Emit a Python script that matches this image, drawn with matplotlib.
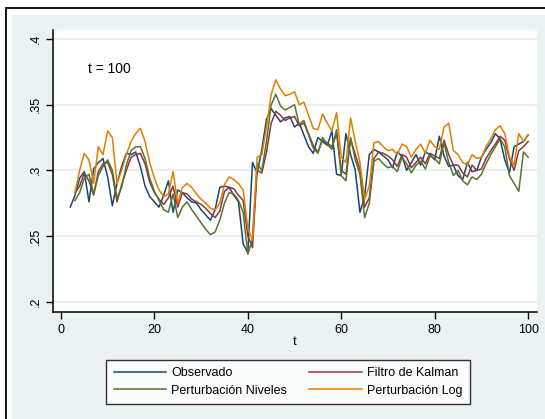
import numpy as np
import matplotlib.pyplot as plt
from matplotlib.patches import Rectangle

plt.rcParams['font.family'] = ['Liberation Sans', 'DejaVu Sans']

# periods
t = list(range(2, 101))

# series values (None = no value at that period)
observado = [
    .272, .281, .294, .299, .276, .301, .306, .309, .295, .273,
    .290, .303, .313, .312, .314, .303, .288, .280, .276, .272,
    .281, .292, .268, .285, .283, .279, .276, .275, .270, .266,
    .262, .270, .287, .288, .287, .281, .276, .244, .237, .306,
    .298, .316, .339, .347, .342, .337, .340, .341, .333, .336,
    .327, .318, .313, .325, .322, .319, .330, .297, .296, .328,
    .312, .300, .268, .280, .312, .316, .314, .311, .308, .302,
    .314, .311, .300, .306, .312, .304, .314, .312, .308, .326,
    .311, .303, .304, .296, .293, .306, .299, .300, .310, .316,
    .321, .328, .324, .308, .298, .318, .320, .322, .327]

kalman = [
    None, .283, .288, .298, .292, .281, .299, .305, .306, .297,
    .276, .289, .300, .310, .312, .313, .305, .291, .283, .278,
    .274, .279, .288, .272, .283, .282, .278, .276, .274, .271,
    .267, .264, .269, .284, .287, .286, .281, .277, .250, .241,
    .300, .298, .314, .336, .345, .342, .338, .340, .341, .334,
    .336, .328, .319, .314, .323, .321, .318, .328, .300, .297,
    .324, .312, .301, .272, .279, .309, .314, .313, .311, .308,
    .303, .312, .310, .302, .306, .310, .305, .313, .311, .309,
    .323, .312, .304, .304, .298, .295, .304, .300, .301, .309,
    .315, .320, .326, .323, .309, .300, .315, .318, .322]

niveles = [
    None, .277, .283, .294, .297, .282, .296, .303, .308, .300,
    .279, .287, .304, .315, .318, .318, .309, .294, .284, .277,
    .270, .268, .282, .264, .272, .276, .270, .265, .260, .255,
    .251, .253, .262, .275, .283, .282, .277, .268, .236, .248,
    .305, .300, .322, .350, .358, .349, .346, .348, .350, .335,
    .338, .327, .317, .313, .325, .320, .316, .331, .296, .292,
    .325, .308, .297, .264, .275, .307, .309, .305, .302, .303,
    .299, .310, .305, .298, .304, .307, .301, .311, .309, .305,
    .321, .306, .296, .300, .292, .289, .295, .293, .297, .305,
    .312, .318, .324, .318, .296, .290, .284, .314, .310]

log_pert = [
    None, .283, .300, .313, .308, .290, .318, .312, .330, .325,
    .290, .300, .312, .322, .328, .332, .322, .306, .294, .285,
    .280, .282, .299, .275, .287, .290, .287, .282, .278, .275,
    .271, .270, .275, .289, .295, .293, .290, .285, .256, .247,
    .310, .312, .333, .358, .369, .362, .357, .358, .360, .350,
    .352, .342, .332, .331, .343, .336, .330, .344, .310, .306,
    .340, .322, .306, .278, .288, .321, .322, .318, .315, .316,
    .312, .320, .318, .310, .316, .320, .313, .323, .318, .316,
    .333, .336, .315, .312, .306, .304, .312, .309, .310, .318,
    .324, .331, .334, .328, .310, .304, .328, .322, .327]

labels = ['Observado', 'Filtro de Kalman', 'Perturbación Niveles', 'Perturbación Log']
colors = ['#1A476F', '#90353B', '#55752F', '#E37E00']


def arr(v):
    return np.array([np.nan if x is None else x for x in v])


W, H = 545, 419
fig = plt.figure(figsize=(W / 100, H / 100), dpi=100)
fig.patch.set_facecolor('white')

# outer frame and graph region (behind the axes)
fig.patches.append(Rectangle((6 / W, -0.1), 1.2, 1 - 8 / H + 0.1, transform=fig.transFigure,
                             facecolor='white', edgecolor='black', lw=1.3, zorder=-2))
fig.patches.append(Rectangle((12 / W, -0.1), 1.2, 1 - 15 / H + 0.1, transform=fig.transFigure,
                             facecolor='#EAF2F3', edgecolor='none', zorder=-1))

ax = fig.add_axes([53 / W, 1 - 312 / H, (537 - 53) / W, (312 - 30) / H])
ax.set_facecolor('white')

lines = []
for vals, lab, col in zip([observado, kalman, niveles, log_pert], labels, colors):
    ln, = ax.plot(t, arr(vals), color=col, lw=1.1, label=lab)
    lines.append(ln)

ax.set_xlim(-1.7, 101.9)
ax.set_ylim(0.192, 0.407)
ax.set_xticks([0, 20, 40, 60, 80, 100])
ax.set_yticks([.2, .25, .3, .35, .4])
ax.set_yticklabels(['.2', '.25', '.3', '.35', '.4'], rotation=90, va='center')
ax.tick_params(axis='both', direction='out', length=5, width=1, labelsize=9, colors='black')
ax.tick_params(axis='y', pad=3)
ax.yaxis.grid(True, color='#E4EDEF', lw=1.2)
ax.set_axisbelow(True)
for s in ['top', 'right']:
    ax.spines[s].set_visible(False)
for s in ['left', 'bottom']:
    ax.spines[s].set_linewidth(1.1)

ax.set_xlabel('t', fontsize=9.5, labelpad=0)
ax.text(5.8, .377, 't = 100', fontsize=10, va='center', ha='left')

# legend: column-first order to get the two-row layout
order = [0, 2, 1, 3]
leg = fig.legend([lines[i] for i in order], [labels[i] for i in order],
                 ncol=2, loc='center', bbox_to_anchor=(288 / W, 1 - 382 / H),
                 frameon=True, fancybox=False, edgecolor='black', fontsize=9,
                 handlelength=4.2, columnspacing=1.8, labelspacing=0.45,
                 borderpad=0.6, handletextpad=0.4)
leg.get_frame().set_linewidth(1.0)

fig.savefig('out.png', dpi=100)
